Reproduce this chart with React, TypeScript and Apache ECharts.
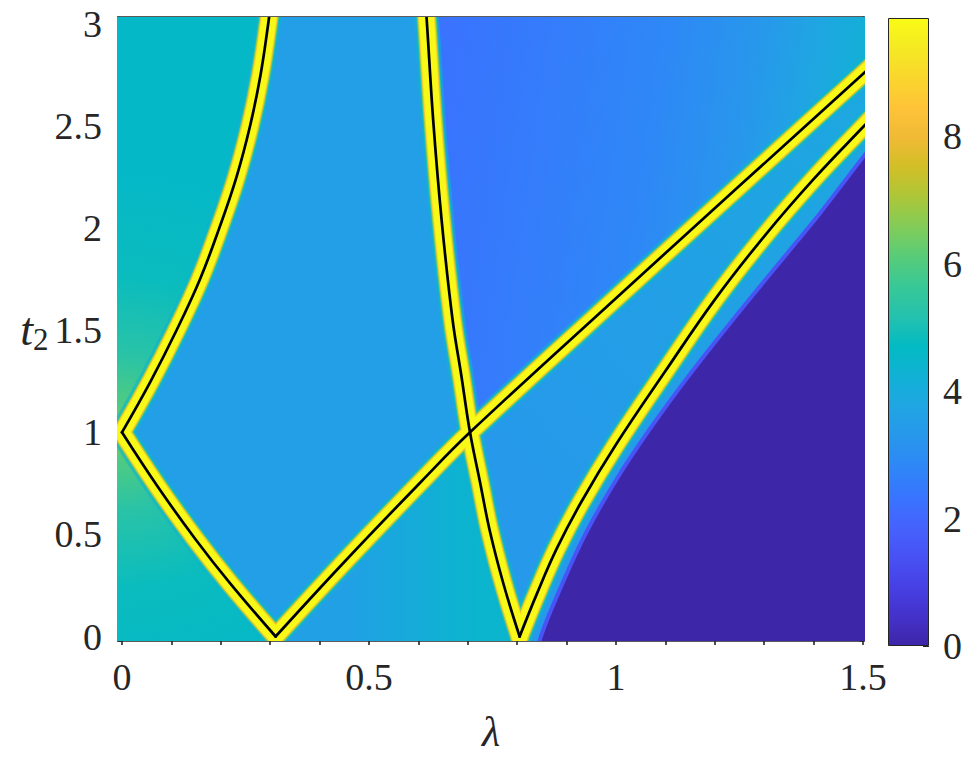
import React, { useEffect, useRef } from 'react';
import * as echarts from 'echarts';

// ---- axis ranges ----
const XMIN = -0.008, XMAX = 1.502, YMIN = -0.022, YMAX = 3.034;
const VMAX = 9.86;

// ---- ticks ----
const xMajorTicks = [0, 0.5, 1, 1.5];
const xMinorTicks = [0, 0.1, 0.2, 0.3, 0.4, 0.5, 0.6, 0.7, 0.8, 0.9, 1, 1.1, 1.2, 1.3, 1.4, 1.5];
const yMajorTicks = [0, 0.5, 1, 1.5, 2, 2.5, 3];
const yMinorTicks = [0, 0.1, 0.2, 0.3, 0.4, 0.5, 0.6, 0.7, 0.8, 0.9, 1, 1.1, 1.2, 1.3, 1.4, 1.5,
  1.6, 1.7, 1.8, 1.9, 2, 2.1, 2.2, 2.3, 2.4, 2.5, 2.6, 2.7, 2.8, 2.9, 3];
const cbTicks = [0, 2, 4, 6, 8];

// ---- phase boundary curves (lambda, t2) ----
const curveA = [[0, 1], [0.058, 1.25], [0.1105, 1.5], [0.158, 1.75], [0.197, 2.0], [0.2318, 2.25], [0.2593, 2.5], [0.2805, 2.75], [0.296, 3.0], [0.301, 3.1]];
const curveB = [[0, 1], [0.0729, 0.732], [0.148, 0.479], [0.219, 0.26], [0.311, 0]];
const curveCLow = [[0.311, 0], [0.45, 0.365], [0.605, 0.757], [0.7045, 1.0]];
const curveCHigh = [[0.7045, 1.0], [1.0, 1.657], [1.25, 2.207], [1.502, 2.76], [1.55, 2.865]];
const curveDUpper = [[0.614, 3.1], [0.617, 3.015], [0.63, 2.528], [0.647, 2.041], [0.669, 1.555], [0.687, 1.277], [0.7045, 1.0]];
const curveDLower = [[0.7045, 1.0], [0.7247, 0.757], [0.745, 0.513], [0.773, 0.251], [0.805, 0]];
const curveE = [[0.805, 0], [0.84, 0.21], [0.88, 0.43], [0.93, 0.66], [1.0, 0.94], [1.1, 1.3], [1.2, 1.65], [1.3, 1.96], [1.4, 2.24], [1.502, 2.5], [1.55, 2.62]];
const darkEdge = [[0.846, -0.1], [0.846, -0.016], [0.887, 0.2345], [0.941, 0.5155], [1.008, 0.797], [1.0755, 1.04], [1.143, 1.263], [1.211, 1.474], [1.278, 1.675], [1.346, 1.875], [1.413, 2.073], [1.504, 2.36], [1.56, 2.53]];

// ---- field values of the regions (colour-map values) ----
const leftStops = [0, 0.1, 0.3, 0.6, 1];
const leftValues = [6.9, 6.0, 5.3, 4.8, 4.6];
const midValue = 3.55;
const lowValues = [3.6, 4.45];
const upStops = [0, 0.3, 0.5, 0.7, 0.85, 1];
const upValues = [2.3, 2.6, 2.85, 3.25, 3.8, 4.3];
const rightValues = [3.35, 3.85];
const darkValue = 0.0;
const edgeValue = 1.5;
const glowValues = [4.3, 5.0, 6.8, 8.6, 9.8];

// ---- parula colormap ----
const PARULA = ['#3e26a8', '#4432cb', '#4741e5', '#4852f4', '#4563fd', '#3875fe', '#2e87f7', '#2797eb',
  '#20a5e3', '#12b1d6', '#02bac3', '#24c1ae', '#37c897', '#57cc7a', '#81cc59', '#abc739', '#d1bf27',
  '#f0ba36', '#fec338', '#fad62d', '#f5e924', '#f9fb15'];

const hexRgb = (h: string) => [parseInt(h.slice(1, 3), 16), parseInt(h.slice(3, 5), 16), parseInt(h.slice(5, 7), 16)];
function parula(v: number): string {
  const n = PARULA.length;
  const t = Math.max(0, Math.min(1, v / VMAX)) * (n - 1);
  const i = Math.min(Math.floor(t), n - 2);
  const f = t - i;
  const a = hexRgb(PARULA[i]), b = hexRgb(PARULA[i + 1]);
  const c = a.map((x, k) => Math.round(x + (b[k] - x) * f));
  return `rgb(${c[0]},${c[1]},${c[2]})`;
}
const toStops = (stops: number[], values: number[]) => stops.map((o, i) => ({ offset: o, color: parula(values[i]) }));

const rev = (a: number[][]) => [...a].reverse();

const AXIS = '#262626';
const FONT = 'Liberation Serif';

export default function App() {
  const ref = useRef<HTMLDivElement>(null);
  useEffect(() => {
    if (!ref.current) return;
    const chart = echarts.init(ref.current, undefined, { renderer: 'svg' });

    const curves = [curveA, curveB, [...curveCLow, ...curveCHigh.slice(1)], [...curveDUpper, ...curveDLower.slice(1)], curveE];

    const regions: any[] = [
      {
        points: [[-0.1, -0.1], [-0.1, 3.2], ...rev(curveA), ...curveB.slice(1), [0.311, -0.1]],
        fill: (api: any) => {
          const c = api.coord([0, 1]);
          return { type: 'radial', x: c[0], y: c[1], r: 260, global: true, colorStops: toStops(leftStops, leftValues) };
        },
      },
      {
        points: [...curveA, ...curveDUpper, ...rev(curveCLow), ...rev(curveB)],
        fill: () => parula(midValue),
      },
      {
        points: [[0.311, -0.1], ...curveCLow, ...curveDLower.slice(1), [0.805, -0.1]],
        fill: (api: any) => {
          const a = api.coord([0.45, 0.3]), b = api.coord([0.72, 0.3]);
          return { type: 'linear', x: a[0], y: a[1], x2: b[0], y2: b[1], global: true, colorStops: toStops([0, 1], lowValues) };
        },
      },
      {
        points: [...curveDUpper, ...curveCHigh.slice(1), [1.7, 3.3], [0.6, 3.3]],
        fill: (api: any) => {
          const a = api.coord([0.644, 2.63]), b = api.coord([1.504, 2.338]);
          return { type: 'linear', x: a[0], y: a[1], x2: b[0], y2: b[1], global: true, colorStops: toStops(upStops, upValues) };
        },
      },
      {
        points: [...curveCHigh, [1.7, 2.9], [1.7, 2.53], ...rev(darkEdge), [0.805, -0.1], ...rev(curveDLower)],
        fill: (api: any) => {
          const a = api.coord([0.765, 0.927]), b = api.coord([1.502, 2.58]);
          return { type: 'linear', x: a[0], y: a[1], x2: b[0], y2: b[1], global: true, colorStops: toStops([0, 1], rightValues) };
        },
      },
      {
        points: [...darkEdge, [1.7, 2.53], [1.7, -0.1]],
        fill: () => parula(darkValue),
      },
    ];

    const series: any[] = [];
    series.push({
      type: 'custom',
      xAxisIndex: 0,
      yAxisIndex: 0,
      clip: true,
      silent: true,
      lineStyle: { width: 0.01 },
      data: regions.map(() => [0.5, 1]),
      encode: { x: 0, y: 1 },
      renderItem: (params: any, api: any) => {
        const r = regions[params.dataIndex];
        const pts = r.points.map((p: number[]) => api.coord(p));
        return { type: 'polygon', shape: { points: pts }, style: { fill: r.fill(api), stroke: null } };
      },
    });

    const lineLayer = (list: number[][][], width: number, color: string, smooth: number, opacity = 1) => ({
      type: 'custom',
      xAxisIndex: 0,
      yAxisIndex: 0,
      clip: true,
      silent: true,
      lineStyle: { width: 0.01 },
      data: list.map(() => [0.5, 1]),
      encode: { x: 0, y: 1 },
      renderItem: (params: any, api: any) => {
        const pts = list[params.dataIndex].map((p) => api.coord(p));
        return {
          type: 'polyline',
          shape: { points: pts, smooth },
          style: { stroke: color, lineWidth: width, lineCap: 'round', lineJoin: 'round', fill: null, opacity },
        };
      },
    });

    series.push(lineLayer([darkEdge], 4, parula(edgeValue), 0.3));
    const glowWidths = [25, 21, 19, 17, 15];
    const glowOpacity = [0.6, 1, 1, 1, 1];
    glowValues.forEach((v, li) => series.push(lineLayer(curves, glowWidths[li], parula(v), 0.4, glowOpacity[li])));
    series.push(lineLayer(curves, 2.7, '#000000', 0.4));

    const cbStops = PARULA.map((_, k) => ({ offset: k / (PARULA.length - 1), color: PARULA[PARULA.length - 1 - k] }));
    series.push({
      type: 'bar', xAxisIndex: 4, yAxisIndex: 4, data: [VMAX], barWidth: '100%', silent: true,
      itemStyle: {
        color: new echarts.graphic.LinearGradient(0, 0, 0, 1, cbStops),
        borderColor: AXIS, borderWidth: 1,
      },
    });

    const lineS = { color: AXIS, width: 1.6 };
    const labelS = { fontFamily: FONT, fontSize: 38, color: AXIS };
    const mainX = (pos: string, labels: boolean) => ({
      type: 'value', gridIndex: 0, position: pos, min: XMIN, max: XMAX,
      axisLine: { show: true, onZero: false, lineStyle: lineS },
      axisTick: { show: true, inside: true, length: 7, customValues: xMajorTicks, lineStyle: lineS },
      axisLabel: labels ? { show: true, customValues: xMajorTicks, margin: 17, ...labelS } : { show: false },
      splitLine: { show: false },
    });
    const minorX = (pos: string) => ({
      type: 'value', gridIndex: 1, position: pos, min: XMIN, max: XMAX,
      axisLine: { show: false, onZero: false },
      axisTick: { show: true, inside: true, length: 4.5, customValues: xMinorTicks, lineStyle: lineS },
      axisLabel: { show: false }, splitLine: { show: false },
    });
    const mainY = (pos: string, labels: boolean) => ({
      type: 'value', gridIndex: 0, position: pos, min: YMIN, max: YMAX,
      axisLine: { show: true, onZero: false, lineStyle: lineS },
      axisTick: { show: true, inside: true, length: 7, customValues: yMajorTicks, lineStyle: lineS },
      axisLabel: labels ? { show: true, customValues: yMajorTicks, margin: 16, ...labelS } : { show: false },
      splitLine: { show: false },
    });
    const minorY = (pos: string) => ({
      type: 'value', gridIndex: 1, position: pos, min: YMIN, max: YMAX,
      axisLine: { show: false, onZero: false },
      axisTick: { show: true, inside: true, length: 4.5, customValues: yMinorTicks, lineStyle: lineS },
      axisLabel: { show: false }, splitLine: { show: false },
    });

    const xb: any = mainX('bottom', true);
    xb.name = 'λ';
    xb.nameLocation = 'middle';
    xb.nameGap = 70;
    xb.nameTextStyle = { fontFamily: FONT, fontStyle: 'italic', fontSize: 42, color: AXIS };
    const yl: any = mainY('left', true);
    yl.name = '{t|t}{s|2}';
    yl.nameLocation = 'middle';
    yl.nameRotate = 0;
    yl.nameGap = 64;
    yl.nameTextStyle = {
      rich: {
        t: { fontFamily: FONT, fontStyle: 'italic', fontSize: 46, color: AXIS },
        s: { fontFamily: FONT, fontSize: 31, color: AXIS, padding: [20, 0, 0, 0] },
      },
    };

    chart.setOption({
      animation: false,
      backgroundColor: '#ffffff',
      grid: [
        { left: 118, top: 17, width: 746, height: 628 },
        { left: 118, top: 17, width: 746, height: 628 },
        { left: 888, top: 18, width: 41, height: 628 },
      ],
      xAxis: [
        xb,
        mainX('top', false),
        minorX('bottom'),
        minorX('top'),
        { type: 'category', gridIndex: 2, data: ['cb'], show: false },
      ],
      yAxis: [
        yl,
        mainY('right', false),
        minorY('left'),
        minorY('right'),
        {
          type: 'value', gridIndex: 2, position: 'right', min: 0, max: VMAX,
          axisLine: { show: false },
          axisTick: { show: true, inside: true, length: 6, customValues: cbTicks, lineStyle: { color: AXIS, width: 1 } },
          axisLabel: { show: true, customValues: cbTicks, margin: 14, ...labelS },
          splitLine: { show: false },
        },
      ],
      series,
    });
    return () => chart.dispose();
  }, []);
  return <div ref={ref} style={{ position: 'absolute', left: 0, top: 0, width: 972, height: 758, background: '#fff' }} />;
}
